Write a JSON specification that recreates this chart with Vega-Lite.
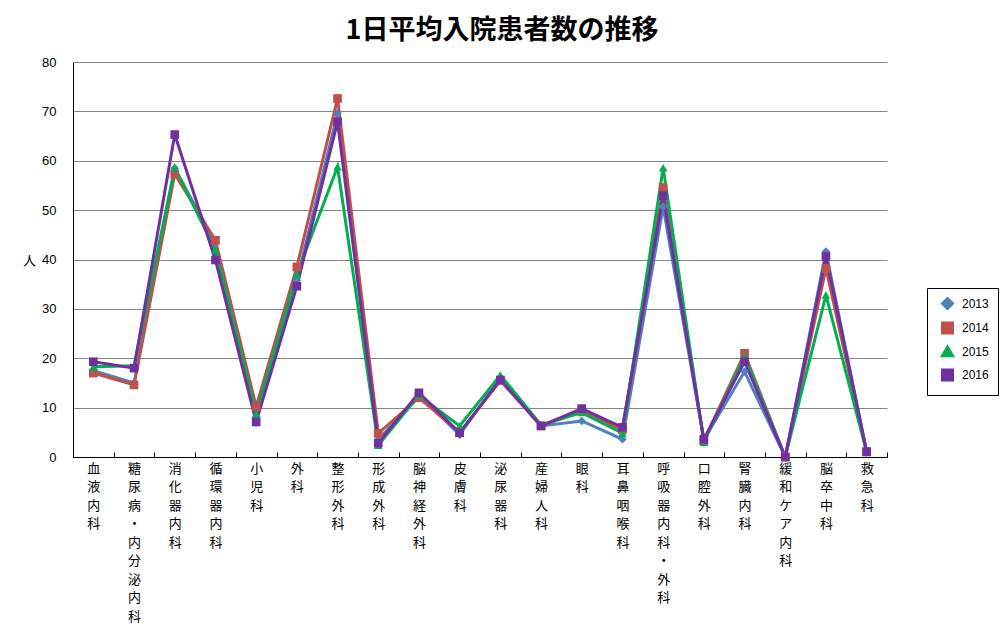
{
  "$schema": "https://vega.github.io/schema/vega-lite/v6.json",
  "autosize": {"type": "none"},
  "width": 814,
  "height": 395,
  "padding": {"left": 73, "top": 62, "right": 116, "bottom": 173},
  "background": "white",
  "title": {
    "text": "1日平均入院患者数の推移",
    "font": "Noto Sans CJK JP",
    "fontSize": 27,
    "fontWeight": "bold",
    "color": "black",
    "anchor": "middle",
    "dx": 22,
    "offset": 11
  },
  "config": {
    "view": {"stroke": null},
    "font": "Noto Sans CJK JP",
    "legend": {
      "title": null,
      "orient": "none",
      "legendX": 854,
      "legendY": 226,
      "strokeColor": "black",
      "fillColor": "white",
      "padding": 9,
      "rowPadding": 1.5,
      "labelFont": "Liberation Sans",
      "labelFontSize": 12,
      "labelColor": "black",
      "labelOffset": 8,
      "symbolSize": 100,
      "symbolOffset": 5,
      "symbolStrokeWidth": 3
    }
  },
  "data": {
    "values": [
      {"dept": "血液内科", "year": "2013", "value": 17.5},
      {"dept": "糖尿病・内分泌内科", "year": "2013", "value": 15.0},
      {"dept": "消化器内科", "year": "2013", "value": 58.5},
      {"dept": "循環器内科", "year": "2013", "value": 43.3},
      {"dept": "小児科", "year": "2013", "value": 8.0},
      {"dept": "外科", "year": "2013", "value": 35.8},
      {"dept": "整形外科", "year": "2013", "value": 69.6},
      {"dept": "形成外科", "year": "2013", "value": 3.5},
      {"dept": "脳神経外科", "year": "2013", "value": 12.5},
      {"dept": "皮膚科", "year": "2013", "value": 4.5},
      {"dept": "泌尿器科", "year": "2013", "value": 16.0},
      {"dept": "産婦人科", "year": "2013", "value": 6.3},
      {"dept": "眼科", "year": "2013", "value": 7.3},
      {"dept": "耳鼻咽喉科", "year": "2013", "value": 3.6},
      {"dept": "呼吸器内科・外科", "year": "2013", "value": 50.7},
      {"dept": "口腔外科", "year": "2013", "value": 3.5},
      {"dept": "腎臓内科", "year": "2013", "value": 17.3},
      {"dept": "緩和ケア内科", "year": "2013", "value": 0},
      {"dept": "脳卒中科", "year": "2013", "value": 41.6},
      {"dept": "救急科", "year": "2013", "value": 1.0},
      {"dept": "血液内科", "year": "2014", "value": 17.0},
      {"dept": "糖尿病・内分泌内科", "year": "2014", "value": 14.6},
      {"dept": "消化器内科", "year": "2014", "value": 57.3},
      {"dept": "循環器内科", "year": "2014", "value": 43.9},
      {"dept": "小児科", "year": "2014", "value": 10.2},
      {"dept": "外科", "year": "2014", "value": 38.5},
      {"dept": "整形外科", "year": "2014", "value": 72.6},
      {"dept": "形成外科", "year": "2014", "value": 4.8},
      {"dept": "脳神経外科", "year": "2014", "value": 12.0},
      {"dept": "皮膚科", "year": "2014", "value": 5.0},
      {"dept": "泌尿器科", "year": "2014", "value": 15.5},
      {"dept": "産婦人科", "year": "2014", "value": 6.3},
      {"dept": "眼科", "year": "2014", "value": 9.3},
      {"dept": "耳鼻咽喉科", "year": "2014", "value": 5.5},
      {"dept": "呼吸器内科・外科", "year": "2014", "value": 54.6},
      {"dept": "口腔外科", "year": "2014", "value": 3.3},
      {"dept": "腎臓内科", "year": "2014", "value": 21.0},
      {"dept": "緩和ケア内科", "year": "2014", "value": 0},
      {"dept": "脳卒中科", "year": "2014", "value": 38.2},
      {"dept": "救急科", "year": "2014", "value": 1.0},
      {"dept": "血液内科", "year": "2015", "value": 18.3},
      {"dept": "糖尿病・内分泌内科", "year": "2015", "value": 18.5},
      {"dept": "消化器内科", "year": "2015", "value": 58.6},
      {"dept": "循環器内科", "year": "2015", "value": 41.9},
      {"dept": "小児科", "year": "2015", "value": 8.8},
      {"dept": "外科", "year": "2015", "value": 37.0},
      {"dept": "整形外科", "year": "2015", "value": 58.8},
      {"dept": "形成外科", "year": "2015", "value": 2.4},
      {"dept": "脳神経外科", "year": "2015", "value": 12.5},
      {"dept": "皮膚科", "year": "2015", "value": 6.3},
      {"dept": "泌尿器科", "year": "2015", "value": 16.6},
      {"dept": "産婦人科", "year": "2015", "value": 6.5},
      {"dept": "眼科", "year": "2015", "value": 9.0},
      {"dept": "耳鼻咽喉科", "year": "2015", "value": 4.8},
      {"dept": "呼吸器内科・外科", "year": "2015", "value": 58.6},
      {"dept": "口腔外科", "year": "2015", "value": 3.0},
      {"dept": "腎臓内科", "year": "2015", "value": 20.4},
      {"dept": "緩和ケア内科", "year": "2015", "value": 0},
      {"dept": "脳卒中科", "year": "2015", "value": 32.8},
      {"dept": "救急科", "year": "2015", "value": 1.0},
      {"dept": "血液内科", "year": "2016", "value": 19.3},
      {"dept": "糖尿病・内分泌内科", "year": "2016", "value": 18.0},
      {"dept": "消化器内科", "year": "2016", "value": 65.3},
      {"dept": "循環器内科", "year": "2016", "value": 39.9},
      {"dept": "小児科", "year": "2016", "value": 7.1},
      {"dept": "外科", "year": "2016", "value": 34.6},
      {"dept": "整形外科", "year": "2016", "value": 67.9},
      {"dept": "形成外科", "year": "2016", "value": 2.8},
      {"dept": "脳神経外科", "year": "2016", "value": 13.0},
      {"dept": "皮膚科", "year": "2016", "value": 4.9},
      {"dept": "泌尿器科", "year": "2016", "value": 15.6},
      {"dept": "産婦人科", "year": "2016", "value": 6.3},
      {"dept": "眼科", "year": "2016", "value": 9.8},
      {"dept": "耳鼻咽喉科", "year": "2016", "value": 6.0},
      {"dept": "呼吸器内科・外科", "year": "2016", "value": 52.9},
      {"dept": "口腔外科", "year": "2016", "value": 3.6},
      {"dept": "腎臓内科", "year": "2016", "value": 19.3},
      {"dept": "緩和ケア内科", "year": "2016", "value": 0},
      {"dept": "脳卒中科", "year": "2016", "value": 40.6},
      {"dept": "救急科", "year": "2016", "value": 1.1}
    ]
  },
  "encoding": {
    "x": {
      "field": "dept",
      "type": "nominal",
      "sort": null,
      "bandPosition": 0.5,
      "scale": {"type": "band", "paddingInner": 0, "paddingOuter": 0},
      "axis": {
        "title": null,
        "labelAngle": 0,
        "labelExpr": "isValid(datum.value) ? split(datum.value, '') : ''",
        "labelFont": "Noto Sans CJK JP",
        "labelFontSize": 13,
        "labelLineHeight": 18.5,
        "labelColor": "black",
        "labelBaseline": "top",
        "labelPadding": 10,
        "tickBand": "extent",
        "tickSize": -5,
        "tickColor": "black",
        "domainColor": "black",
        "grid": false
      }
    },
    "y": {
      "field": "value",
      "type": "quantitative",
      "scale": {"domain": [0, 80], "nice": false},
      "axis": {
        "values": [0, 10, 20, 30, 40, 50, 60, 70, 80],
        "title": "人",
        "titleAngle": 0,
        "titleFont": "Noto Sans CJK JP",
        "titleFontSize": 13,
        "titleFontWeight": "normal",
        "titleColor": "black",
        "titleX": -44,
        "titleY": 198,
        "titleAlign": "center",
        "titleBaseline": "middle",
        "labelFont": "Liberation Sans",
        "labelFontSize": 13,
        "labelColor": "black",
        "labelPadding": 17,
        "ticks": false,
        "domainColor": "black",
        "grid": true,
        "gridColor": "#868686",
        "gridWidth": 1
      }
    },
    "color": {
      "field": "year",
      "type": "nominal",
      "scale": {
        "domain": ["2013", "2014", "2015", "2016"],
        "range": ["#4F81BD", "#C0504D", "#00B050", "#7030A0"]
      },
      "legend": {
        "encode": {
          "symbols": {
            "update": {
              "shape": {"signal": "datum.value == '2013' ? 'M-2.8,0H2.8M0,-0.75L0.75,0L0,0.75L-0.75,0Z' : datum.value == '2015' ? 'M-2.8,0H2.8M0,-0.75L0.75,0.6H-0.75Z' : 'M-2.8,0H2.8M-0.6,-0.6H0.6V0.6H-0.6Z'"},
              "fill": {"signal": "scale('color', datum.value)"},
              "stroke": {"signal": "scale('color', datum.value)"},
              "opacity": {"value": 1},
              "fillOpacity": {"value": 1},
              "strokeWidth": {"value": 3}
            }
          }
        }
      }
    }
  },
  "layer": [
    {
      "mark": {"type": "line", "strokeWidth": 3}
    },
    {
      "mark": {"type": "point", "filled": true, "size": 75, "opacity": 1},
      "encoding": {
        "shape": {
          "field": "year",
          "type": "nominal",
          "scale": {
            "domain": ["2013", "2014", "2015", "2016"],
            "range": ["diamond", "square", "triangle-up", "square"]
          },
          "legend": {
            "encode": {
              "symbols": {
                "update": {
                  "shape": {"signal": "datum.value == '2013' ? 'M-2.8,0H2.8M0,-0.75L0.75,0L0,0.75L-0.75,0Z' : datum.value == '2015' ? 'M-2.8,0H2.8M0,-0.75L0.75,0.6H-0.75Z' : 'M-2.8,0H2.8M-0.6,-0.6H0.6V0.6H-0.6Z'"},
                  "fill": {"signal": "scale('color', datum.value)"},
                  "stroke": {"signal": "scale('color', datum.value)"},
                  "opacity": {"value": 1},
                  "fillOpacity": {"value": 1},
                  "strokeWidth": {"value": 3}
                }
              }
            }
          }
        }
      }
    }
  ]
}
